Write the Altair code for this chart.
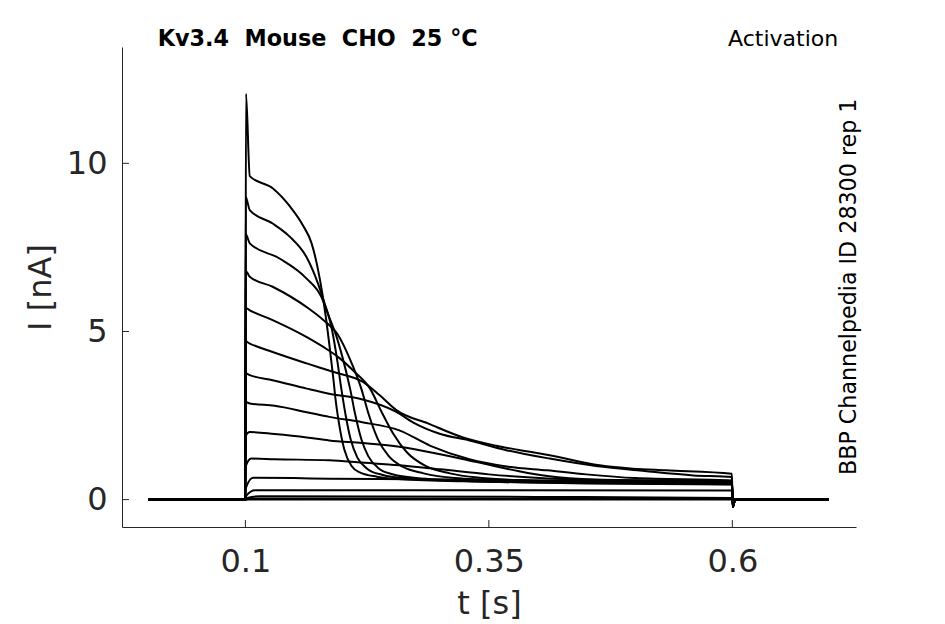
import altair as alt
import pandas as pd

# ---- annotation text ----
TITLE_TEXT = "Kv3.4\u00a0\u00a0Mouse\u00a0\u00a0CHO\u00a0\u00a025\u00a0°C"
PROTOCOL_TEXT = "Activation"
SOURCE_TEXT = "BBP Channelpedia ID 28300 rep 1"

# ---- axis ticks ----
X_TICKS = [0.1, 0.35, 0.6]
Y_TICKS = [0, 5, 10]
X_DOMAIN = [-0.0267, 0.727]
Y_DOMAIN = [-0.815, 13.46]

# ---- current traces (time [s], current [nA]) ----
A_T = [0, 0.0999, 0.1006, 0.1045, 0.128, 0.146, 0.159, 0.168, 0.174, 0.179, 0.1826, 0.1865, 0.1905, 0.1925, 0.1965, 0.2015, 0.209, 0.218, 0.235, 0.265, 0.35, 0.45, 0.5995, 0.6005, 0.603, 0.699]
A_I = [0, 0, 12.07, 9.62, 9.26, 8.71, 8.16, 7.62, 6.92, 6.13, 5.43, 4.54, 3.55, 3.0, 2.2, 1.5, 1.0, 0.8, 0.68, 0.6, 0.53, 0.48, 0.45, -0.22, 0, 0]

B_T = [0, 0.0999, 0.1003, 0.1045, 0.128, 0.1455, 0.1626, 0.1745, 0.1814, 0.1883, 0.194, 0.1985, 0.203, 0.208, 0.215, 0.225, 0.24, 0.27, 0.34, 0.45, 0.5995, 0.6005, 0.603, 0.699]
B_I = [0, 0, 9.0, 8.61, 8.21, 7.82, 7.22, 6.43, 5.83, 5.14, 4.2, 3.3, 2.5, 1.8, 1.25, 0.92, 0.74, 0.62, 0.54, 0.49, 0.46, -0.22, 0, 0]

C_T = [0, 0.0999, 0.1003, 0.1045, 0.135, 0.1626, 0.178, 0.186, 0.193, 0.2, 0.2075, 0.213, 0.219, 0.226, 0.236, 0.25, 0.28, 0.36, 0.47, 0.5995, 0.6005, 0.603, 0.699]
C_I = [0, 0, 7.9, 7.62, 7.17, 6.58, 6.03, 5.43, 4.9, 4.2, 3.3, 2.5, 1.8, 1.3, 0.95, 0.76, 0.63, 0.55, 0.5, 0.47, -0.22, 0, 0]

D_T = [0, 0.0999, 0.1003, 0.1045, 0.128, 0.1626, 0.18, 0.195, 0.207, 0.219, 0.227, 0.236, 0.247, 0.262, 0.283, 0.315, 0.38, 0.48, 0.5995, 0.6005, 0.603, 0.699]
D_I = [0, 0, 6.8, 6.63, 6.33, 5.73, 5.34, 4.9, 4.2, 3.3, 2.5, 1.8, 1.3, 0.97, 0.78, 0.64, 0.56, 0.51, 0.48, -0.22, 0, 0]

E_T = [0, 0.0999, 0.1003, 0.1045, 0.128, 0.1626, 0.18, 0.197, 0.212, 0.228, 0.24, 0.252, 0.266, 0.285, 0.31, 0.34, 0.39, 0.48, 0.5995, 0.6005, 0.603, 0.699]
E_I = [0, 0, 5.7, 5.63, 5.34, 4.84, 4.54, 4.2, 3.8, 3.3, 2.6, 1.95, 1.4, 1.0, 0.78, 0.65, 0.57, 0.52, 0.49, -0.22, 0, 0]

F_T = [0, 0.0999, 0.1003, 0.1045, 0.128, 0.163, 0.19, 0.2207, 0.238, 0.255, 0.288, 0.3234, 0.3577, 0.392, 0.4124, 0.4637, 0.498, 0.532, 0.5995, 0.6005, 0.603, 0.699]
F_I = [0, 0, 4.7, 4.64, 4.39, 4.05, 3.8, 3.5, 3.1, 2.66, 2.26, 1.85, 1.6, 1.42, 1.32, 1.02, 0.92, 0.87, 0.77, -0.2, 0, 0]

G_T = [0, 0.0999, 0.1003, 0.1045, 0.128, 0.163, 0.186, 0.2174, 0.255, 0.272, 0.2995, 0.33, 0.368, 0.4124, 0.46, 0.51, 0.56, 0.5995, 0.6005, 0.603, 0.699]
G_I = [0, 0, 3.75, 3.70, 3.55, 3.3, 3.15, 3.0, 2.61, 2.3, 1.96, 1.76, 1.47, 1.22, 1.0, 0.85, 0.72, 0.67, -0.2, 0, 0]

H_T = [0, 0.0999, 0.1003, 0.1045, 0.13, 0.163, 0.186, 0.22, 0.258, 0.29, 0.33, 0.37, 0.41, 0.45, 0.5, 0.5995, 0.6005, 0.603, 0.699]
H_I = [0, 0, 2.9, 2.86, 2.79, 2.6, 2.46, 2.3, 2.06, 1.6, 1.2, 0.98, 0.87, 0.75, 0.64, 0.57, -0.18, 0, 0]

I_T = [0, 0.0999, 0.1003, 0.1045, 0.13, 0.163, 0.186, 0.22, 0.258, 0.3, 0.34, 0.38, 0.41, 0.46, 0.5995, 0.6005, 0.603, 0.699]
I_I = [0, 0, 1.9, 2.01, 1.95, 1.85, 1.76, 1.68, 1.57, 1.35, 1.1, 0.85, 0.7, 0.6, 0.55, -0.15, 0, 0]

J_T = [0, 0.0999, 0.1005, 0.106, 0.13, 0.186, 0.22, 0.258, 0.3, 0.35, 0.41, 0.5, 0.5995, 0.6005, 0.603, 0.699]
J_I = [0, 0, 1.0, 1.22, 1.2, 1.17, 1.1, 1.02, 0.9, 0.75, 0.63, 0.56, 0.53, -0.12, 0, 0]

K_T = [0, 0.0999, 0.1005, 0.108, 0.15, 0.186, 0.3, 0.41, 0.5995, 0.6005, 0.603, 0.699]
K_I = [0, 0, 0.35, 0.65, 0.64, 0.62, 0.6, 0.57, 0.55, -0.1, 0, 0]

L_T = [0, 0.0999, 0.101, 0.11, 0.3, 0.5995, 0.6005, 0.603, 0.699]
L_I = [0, 0, 0.12, 0.28, 0.28, 0.27, -0.05, 0, 0]

M_T = [0, 0.0999, 0.102, 0.115, 0.4, 0.5995, 0.603, 0.699]
M_I = [0, 0, 0.05, 0.1, 0.08, 0.05, 0, 0]

N_T = [0, 0.0999, 0.105, 0.6, 0.699]
N_I = [0, 0, 0.03, 0.02, 0]

O_T = [0, 0.699]
O_I = [0, 0]

TRACES = {
    "A": (A_T, A_I), "B": (B_T, B_I), "C": (C_T, C_I), "D": (D_T, D_I),
    "E": (E_T, E_I), "F": (F_T, F_I), "G": (G_T, G_I), "H": (H_T, H_I),
    "I": (I_T, I_I), "J": (J_T, J_I), "K": (K_T, K_I), "L": (L_T, L_I),
    "M": (M_T, M_I), "N": (N_T, N_I), "O": (O_T, O_I),
}

rows = []
for name, (ts, vs) in TRACES.items():
    for t, v in zip(ts, vs):
        rows.append({"trace": name, "t": t, "I": v})
df = pd.DataFrame(rows)

W, H = 734, 480
INK = "#262626"
FONT = "DejaVu Sans"
FS = 32

x_axis = alt.Axis(values=X_TICKS, format=".2~f", title="t [s]", ticks=False, tickSize=0,
                  grid=False, domainColor=INK, domainWidth=1, labelFont=FONT,
                  labelFontSize=FS, labelColor=INK, labelPadding=19, labelFlush=False,
                  labelOverlap=False, titleFont=FONT, titleFontSize=FS,
                  titleFontWeight="normal", titleColor=INK, titleY=86,
                  titleBaseline="alphabetic")
y_axis = alt.Axis(values=Y_TICKS, format="d", title="I [nA]", ticks=False, tickSize=0,
                  grid=False, domainColor=INK, domainWidth=1, labelFont=FONT,
                  labelFontSize=FS, labelColor=INK, labelPadding=15, labelFlush=False,
                  labelOverlap=False, titleFont=FONT, titleFontSize=FS,
                  titleFontWeight="normal", titleColor=INK, titleAngle=270,
                  titleX=-72, titleY=H / 2, titleAlign="center",
                  titleBaseline="alphabetic")

x_enc = alt.X("t:Q", scale=alt.Scale(domain=X_DOMAIN, nice=False, zero=False), axis=x_axis)
y_enc = alt.Y("I:Q", scale=alt.Scale(domain=Y_DOMAIN, nice=False, zero=False), axis=y_axis)

lines = alt.Chart(df).mark_line(interpolate="monotone", strokeWidth=2, color="black",
                                clip=True).encode(x=x_enc, y=y_enc, detail="trace:N")

xticks = alt.Chart(pd.DataFrame({"t": X_TICKS})).mark_rule(color=INK, strokeWidth=1).encode(
    x=x_enc, y=alt.value(H), y2=alt.value(H - 7))
yticks = alt.Chart(pd.DataFrame({"I": Y_TICKS})).mark_rule(color=INK, strokeWidth=1).encode(
    y=y_enc, x=alt.value(0), x2=alt.value(7))

title = alt.Chart(pd.DataFrame({"label": [TITLE_TEXT]})).mark_text(
    font=FONT, fontSize=22.3, fontWeight="bold", color="black", align="left",
    baseline="middle").encode(text="label:N", x=alt.value(35.7), y=alt.value(-7.7))
protocol = alt.Chart(pd.DataFrame({"label": [PROTOCOL_TEXT]})).mark_text(
    font=FONT, fontSize=22, color="black", align="right",
    baseline="middle").encode(text="label:N", x=alt.value(716.2), y=alt.value(-7.7))
source = alt.Chart(pd.DataFrame({"label": [SOURCE_TEXT]})).mark_text(
    font=FONT, fontSize=22.2, color="black", align="center", baseline="middle",
    angle=270).encode(text="label:N", x=alt.value(726.7), y=alt.value(239.8))

chart = alt.layer(lines, xticks, yticks, title, protocol, source).properties(
    width=W, height=H, autosize="none",
    padding={"left": 114, "top": 39, "right": 81, "bottom": 97},
    background="white",
).configure_view(stroke=None)

chart.save("out.html", embed_options={"renderer": "svg", "actions": False})
